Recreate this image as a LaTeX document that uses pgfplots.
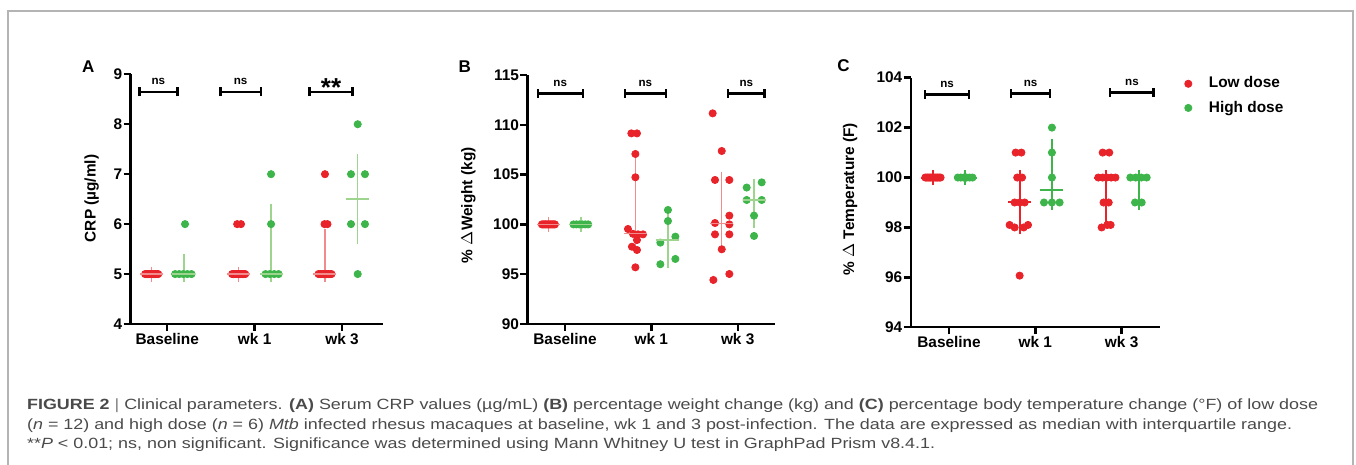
\documentclass[border=0pt]{standalone}
\usepackage{graphicx}
\usepackage{pgfplots}
\pgfplotsset{compat=1.18}
\usepackage{fontspec}
\setmainfont{Liberation Sans}
\newfontfamily\capfont{Liberation Sans}
\definecolor{dotred}{HTML}{E8232A}
\definecolor{dotgreen}{HTML}{3DB54A}
\definecolor{ebred}{HTML}{F28C8C}
\definecolor{ebgreen}{HTML}{9DD58F}
\definecolor{captxt}{HTML}{4A4A4A}
\definecolor{framegray}{HTML}{B4B4B4}
\newcommand\lblfont{\fontsize{7.7}{9}\selectfont\bfseries}
\pgfplotsset{
  prism/.style={
    scale only axis, anchor=south west, clip=false,
    axis lines*=left,
    axis line style={line width=1.2pt, black},
    tick style={line width=1.2pt, black},
    tick align=outside, major tick length=3.5pt,
    xtick={0,1,2}, xticklabels={Baseline,wk 1,wk 3},
    tick label style={font=\lblfont},
    /pgf/number format/assume math mode=true,
    yticklabel style={inner sep=0.5pt},
    xticklabel style={inner sep=0pt, yshift=-1pt},
    every axis y label/.style={rotate=90, anchor=center, font=\lblfont},
  },
  lo/.style={only marks, mark=*, mark size=1.8pt, color=dotred, mark options={draw=none, fill=dotred}},
  hi/.style={only marks, mark=*, mark size=1.8pt, color=dotgreen, mark options={draw=none, fill=dotgreen}},
  eb/.style 2 args={forget plot, only marks, color=#1, mark=-, mark size=5.75pt,
     mark options={line width=#2, draw=#1, solid},
     error bars/y dir=both, error bars/y explicit,
     error bars/error mark=-,
     error bars/error mark options={mark size=3.75pt, line width=#2, draw=#1},
     error bars/error bar style={line width=#2, draw=#1}},
}
\newcommand\sig[4]{%
  \draw[line width=1.2pt] (axis cs:#1,#3) -- node[midway, above=3pt, inner sep=0pt, font=\fontsize{5.8}{6}\selectfont\bfseries] {#4} (axis cs:#2,#3);
  \draw[line width=1.2pt] (axis cs:#1,#3) ++(0pt,-2.3pt) -- ++(0pt,4.6pt);
  \draw[line width=1.2pt] (axis cs:#2,#3) ++(0pt,-2.3pt) -- ++(0pt,4.6pt);}
\newcommand\sigstar[3]{%
  \draw[line width=1.2pt] (axis cs:#1,#3) -- node[midway, anchor=base, yshift=-2.6pt, inner sep=0pt, font=\fontsize{13}{13}\selectfont\bfseries] {**} (axis cs:#2,#3);
  \draw[line width=1.2pt] (axis cs:#1,#3) ++(0pt,-2.3pt) -- ++(0pt,4.6pt);
  \draw[line width=1.2pt] (axis cs:#2,#3) ++(0pt,-2.3pt) -- ++(0pt,4.6pt);}
\newsavebox\capA
\newsavebox\capB
\newsavebox\capC
\newdimen\capw
\AtBeginDocument{%
\sbox\capA{\capfont\fontsize{7.4}{9}\selectfont\color{captxt}{\bfseries FIGURE 2} {\color{gray}|} Clinical parameters. {\bfseries (A)} Serum CRP values (µg/mL) {\bfseries (B)} percentage weight change (kg) and {\bfseries (C)} percentage body temperature change (°F) of low dose}%
\sbox\capB{\capfont\fontsize{7.4}{9}\selectfont\color{captxt}({\itshape n} = 12) and high dose ({\itshape n} = 6) {\itshape Mtb} infected rhesus macaques at baseline, wk 1 and 3 post-infection. The data are expressed as median with interquartile range.}%
\sbox\capC{\capfont\fontsize{7.4}{9}\selectfont\color{captxt}**{\itshape P} < 0.01; ns, non significant. Significance was determined using Mann Whitney U test in GraphPad Prism v8.4.1.}%
\global\capw=\wd\capA
\pgfmathsetmacro\capsx{645.5/\capw}%
\xdef\capsx{\capsx}}
\begin{document}
\begin{tikzpicture}
\path[use as bounding box] (0,0) rectangle (678pt,232.5pt);
\draw[framegray, line width=0.8pt] (4pt,0) -- (4pt,227pt) -- (676.5pt,227pt) -- (676.5pt,0);
\node[anchor=base west, inner sep=0pt] at (13.35pt,27.5pt) {\scalebox{\capsx}[1]{\usebox\capA}};
\node[anchor=base west, inner sep=0pt] at (13.35pt,17.85pt) {\scalebox{\capsx}[1]{\usebox\capB}};
\node[anchor=base west, inner sep=0pt] at (13.35pt,8.35pt) {\scalebox{\capsx}[1]{\usebox\capC}};

% ---------------- Panel A ----------------
\begin{axis}[prism, at={(65.35pt,70.5pt)}, width=126pt, height=124.85pt,
  xmin=-0.419, xmax=2.466, ymin=4, ymax=9, ytick={4,5,6,7,8,9},
  ylabel={CRP (µg/ml)}, ylabel style={at={(axis description cs:-0.155,0.503)}}]
\addplot[lo, forget plot] coordinates {(-0.254,5)(-0.240,5)(-0.227,5)(-0.213,5)(-0.200,5)(-0.186,5)(-0.172,5)(-0.159,5)(-0.145,5)(-0.131,5)(-0.118,5)(-0.104,5)};
\addplot[hi, forget plot] coordinates {(0.09,5)(0.137,5)(0.184,5)(0.23,5)(0.277,5)(0.203,6)};
\addplot[lo, forget plot] coordinates {(0.742,5)(0.759,5)(0.775,5)(0.792,5)(0.809,5)(0.825,5)(0.842,5)(0.859,5)(0.875,5)(0.892,5)(0.80,6)(0.844,6)};
\addplot[hi, forget plot] coordinates {(1.125,5)(1.174,5)(1.224,5)(1.274,5)(1.188,6)(1.188,7)};
\addplot[lo, forget plot] coordinates {(1.731,5)(1.750,5)(1.768,5)(1.787,5)(1.806,5)(1.824,5)(1.843,5)(1.861,5)(1.880,5)(1.80,6)(1.834,6)(1.805,7)};
\addplot[hi, forget plot] coordinates {(2.18,8)(2.103,7)(2.263,7)(2.103,6)(2.263,6)(2.18,5)};
\addplot[eb={ebred}{0.7pt}] coordinates {(-0.18,5) += (0,0) -= (0,0) (0.817,5) += (0,0) -= (0,0) (1.805,5) += (0,0.75) -= (0,0)};
\addplot[eb={ebgreen}{0.7pt}] coordinates {(0.19,5) += (0,0.25) -= (0,0) (1.188,5) += (0,1.25) -= (0,0) (2.18,6.5) += (0,0.75) -= (0,0.75)};
\sig{-0.32}{0.115}{8.65}{ns}
\sig{0.61}{1.07}{8.65}{ns}
\sigstar{1.63}{2.12}{8.65}
\node[font=\fontsize{8.5}{9}\selectfont\bfseries] at (axis description cs:-0.168,1.03) {A};
\end{axis}

% ---------------- Panel B ----------------
\begin{axis}[prism, at={(263.65pt,70.5pt)}, width=123.85pt, height=124.5pt,
  xmin=-0.437, xmax=2.432, ymin=90, ymax=115, ytick={90,95,100,105,110,115},
  ylabel={\% $\Delta$Weight (kg)}, ylabel style={at={(axis description cs:-0.238,0.477)}}]
\addplot[lo, forget plot] coordinates {(-0.268,100)(-0.254,100)(-0.241,100)(-0.227,100)(-0.213,100)(-0.199,100)(-0.186,100)(-0.172,100)(-0.158,100)(-0.144,100)(-0.131,100)(-0.117,100)};
\addplot[hi, forget plot] coordinates {(0.098,100)(0.132,100)(0.166,100)(0.200,100)(0.234,100)(0.268,100)};
\addplot[lo, forget plot] coordinates {(0.768,109.14)(0.833,109.14)(0.815,107.07)(0.815,104.73)(0.729,99.54)(0.787,99.05)(0.845,99.0)(0.903,99.0)(0.833,98.43)(0.775,97.76)(0.833,97.43)(0.815,95.69)};
\addplot[hi, forget plot] coordinates {(1.192,101.45)(1.192,100.34)(1.278,98.77)(1.104,98.17)(1.278,96.53)(1.104,96.0)};
\addplot[lo, forget plot] coordinates {(1.718,94.42)(1.903,95.02)(1.815,97.5)(1.737,99.0)(1.903,99.0)(1.737,100.14)(1.903,100.0)(1.903,100.88)(1.737,104.46)(1.903,104.46)(1.815,107.37)(1.71,111.15)};
\addplot[hi, forget plot] coordinates {(2.278,104.22)(2.104,103.7)(2.104,102.45)(2.278,102.45)(2.189,100.88)(2.189,98.84)};
\addplot[eb={ebred}{0.7pt}] coordinates {(-0.19,100) += (0,0) -= (0,0) (0.815,99.1) += (0,7.37) -= (0,1.17) (1.815,100.07) += (0,4.39) -= (0,2.2)};
\addplot[eb={ebgreen}{0.7pt}] coordinates {(0.183,100) += (0,0) -= (0,0) (1.192,98.45) += (0,2.17) -= (0,2.05) (2.189,102.45) += (0,1.38) -= (0,2.08)};
\sig{-0.316}{0.205}{113.16}{ns}
\sig{0.694}{1.168}{113.16}{ns}
\sig{1.89}{2.31}{113.16}{ns}
\node[font=\fontsize{8.5}{9}\selectfont\bfseries] at (axis description cs:-0.252,1.033) {B};
\end{axis}

% ---------------- Panel C ----------------
\begin{axis}[prism, at={(455.35pt,68.85pt)}, width=124.65pt, height=124.8pt,
  xmin=-0.444, xmax=2.444, ymin=94, ymax=104, ytick={94,96,98,100,102,104},
  ylabel={\% $\Delta$ Temperature (F)}, ylabel style={at={(axis description cs:-0.243,0.513)}},
  legend style={draw=none, fill=none, at={(axis description cs:1.0975,1.02)}, anchor=north west,
    inner sep=0pt, outer sep=0pt, row sep=1pt, font=\lblfont},
  legend image code/.code={\path[draw=none, fill=none] (-2pt,-2pt) rectangle (8.3pt,2pt); \draw[#1] plot coordinates {(0pt,0pt)};},
  legend cell align=left]
\addplot[lo] coordinates {(-0.275,100)(-0.259,100)(-0.243,100)(-0.227,100)(-0.211,100)(-0.195,100)(-0.179,100)(-0.162,100)(-0.146,100)(-0.130,100)(-0.114,100)(-0.098,100)};
\addlegendentry{Low dose}
\addplot[hi] coordinates {(0.102,100)(0.136,100)(0.170,100)(0.204,100)(0.238,100)(0.272,100)};
\addlegendentry{High dose}
\addplot[lo, forget plot] coordinates {(0.818,96.07)(0.702,98.1)(0.76,98.0)(0.865,98.0)(0.915,98.1)(0.76,99)(0.818,99)(0.876,99)(0.79,100)(0.846,100)(0.772,101)(0.838,101)};
\addplot[hi, forget plot] coordinates {(1.192,102)(1.192,101)(1.192,100)(1.1,99)(1.192,99)(1.281,99)};
\addplot[lo, forget plot] coordinates {(1.768,98.0)(1.833,98.1)(1.872,98.1)(1.79,99)(1.85,99)(1.729,100)(1.779,100)(1.828,100)(1.878,100)(1.928,100)(1.78,101)(1.856,101)};
\addplot[hi, forget plot] coordinates {(2.1,100)(2.163,100)(2.227,100)(2.29,100)(2.155,99)(2.232,99)};
\addplot[eb={dotred}{1pt}] coordinates {(-0.186,100) += (0,0) -= (0,0) (0.818,99) += (0,1) -= (0,0.95) (1.818,100) += (0,0) -= (0,1.67)};
\addplot[eb={dotgreen}{1pt}] coordinates {(0.187,100) += (0,0) -= (0,0) (1.192,99.5) += (0,1.75) -= (0,0.5) (2.2,100) += (0,0) -= (0,1)};
\sig{-0.278}{0.232}{103.33}{ns}
\sig{0.718}{1.17}{103.37}{ns}
\sig{1.868}{2.37}{103.41}{ns}
\node[font=\fontsize{8.5}{9}\selectfont\bfseries] at (axis description cs:-0.27,1.047) {C};
\end{axis}
\end{tikzpicture}
\end{document}
